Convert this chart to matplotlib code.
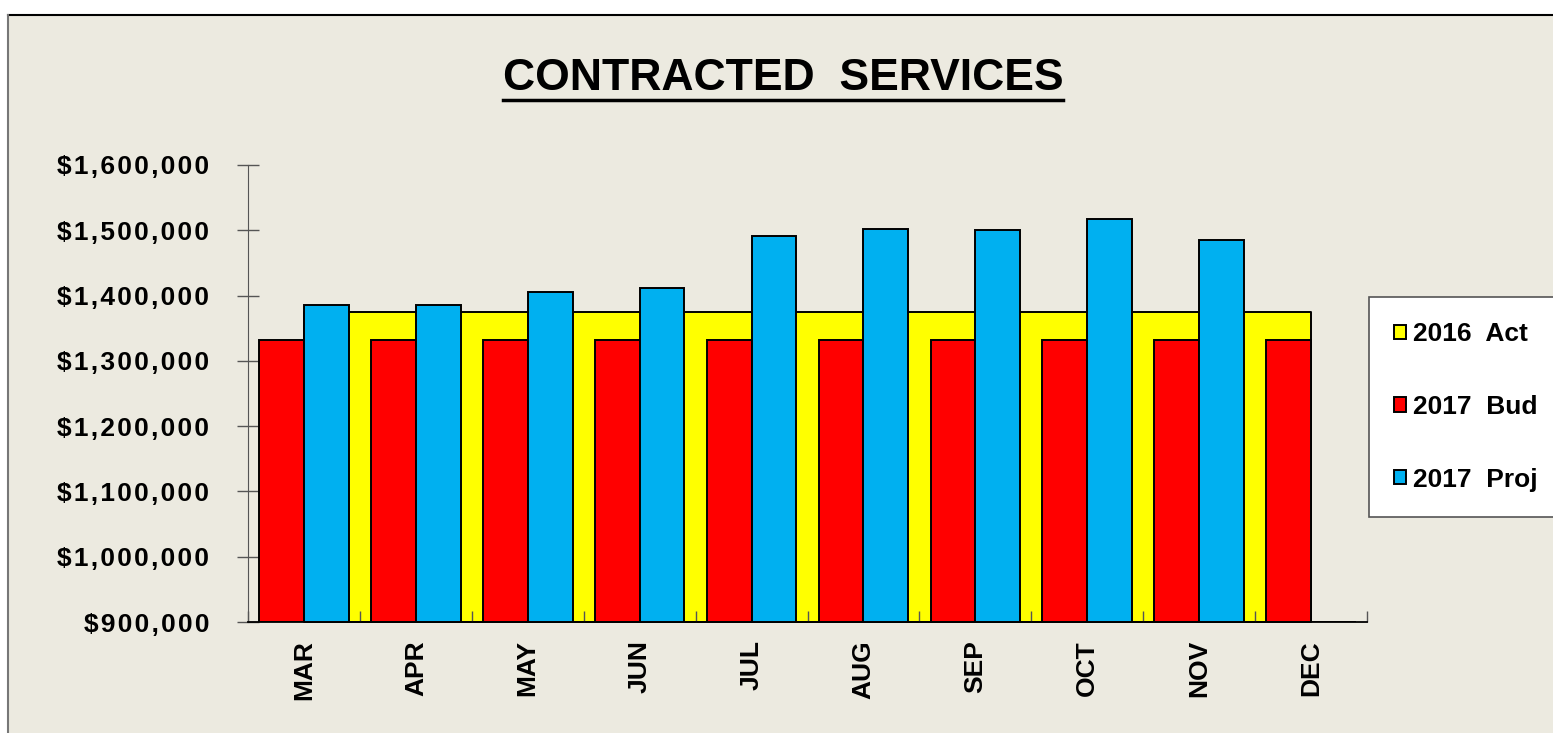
import matplotlib
matplotlib.use("Agg")
import matplotlib.pyplot as plt
import numpy as np
from matplotlib.lines import Line2D
from matplotlib.patches import Rectangle

plt.rcParams['font.family'] = ['Liberation Sans', 'DejaVu Sans']
plt.rcParams['font.weight'] = 'bold'

months = ['MAR', 'APR', 'MAY', 'JUN', 'JUL', 'AUG', 'SEP', 'OCT', 'NOV', 'DEC']
act_2016 = [1375000] * 10
bud_2017 = [1332000] * 10
proj_2017 = [1385000, 1385000, 1405000, 1411000, 1492000, 1502000,
             1501000, 1517000, 1485000, 0]
series_names = ['2016  Act', '2017  Bud', '2017  Proj']
y_ticks = [900000, 1000000, 1100000, 1200000, 1300000, 1400000, 1500000, 1600000]

bg = '#ECEAE0'
W, H = 1553, 733
fig = plt.figure(figsize=(W / 100, H / 100), dpi=100)
fig.patch.set_facecolor('white')

# chart area panel with top/left border
fig.patches.append(Rectangle((8 / W, 0), 1, 1 - 15 / H, transform=fig.transFigure,
                             facecolor=bg, edgecolor='none', zorder=-10))
fig.lines.append(Line2D([8 / W, 1], [1 - 15 / H] * 2, transform=fig.transFigure,
                        color='black', lw=1.5))
fig.lines.append(Line2D([8 / W] * 2, [0, 1 - 15 / H], transform=fig.transFigure,
                        color='#777777', lw=1.5))

ax = fig.add_axes([248 / W, 1 - 622 / H, (1367 - 248) / W, (622 - 165) / H])
ax.set_facecolor(bg)

ymin, ymax = 900000, 1600000
x = np.arange(len(months))
w = 0.4

def clip(vals):
    return np.maximum(np.array(vals, dtype=float), ymin) - ymin

ax.fill_between(x, ymin, act_2016, facecolor='#FFFF00', edgecolor='black',
                linewidth=1.4, zorder=1, label=series_names[0])
ax.bar(x - w / 2, clip(bud_2017), w, bottom=ymin, color='#FF0000',
       edgecolor='black', linewidth=1.4, zorder=2, label=series_names[1])
ax.bar(x + w / 2, clip(proj_2017), w, bottom=ymin, color='#00B0F0',
       edgecolor='black', linewidth=1.4, zorder=3, label=series_names[2])

ax.set_xlim(-0.5, len(months) - 0.5)
ax.set_ylim(ymin, ymax)

sp = '\u200a'
def money(v):
    return sp.join(f'${v:,.0f}')

ax.set_yticks(y_ticks)
ax.set_yticklabels([money(v) for v in y_ticks], fontsize=19, fontweight='bold')
ax.tick_params(axis='y', direction='inout', length=16, width=1, color='#555555', pad=20)

ax.set_xticks(x)
ax.set_xticklabels(months, rotation=90, fontsize=19, fontweight='bold', va='top')
ax.tick_params(axis='x', which='major', length=0, pad=13)
ax.set_xticks(np.arange(len(months) + 1) - 0.5, minor=True)
ax.tick_params(axis='x', which='minor', direction='in', length=8, width=1, color='#555555')

for s in ['top', 'right']:
    ax.spines[s].set_visible(False)
ax.spines['left'].set_color('#555555')
ax.spines['bottom'].set_color('black')
ax.spines['bottom'].set_linewidth(1.3)

# legend
handles, labels = ax.get_legend_handles_labels()
leg = fig.legend(handles, labels,
                 loc='upper left', bbox_to_anchor=(1369 / W, 1 - 297 / H),
                 fontsize=19, frameon=True, fancybox=False, framealpha=1,
                 borderpad=0.95, labelspacing=1.85, handlelength=0.45,
                 handleheight=0.45, handletextpad=0.25, borderaxespad=0)
leg.get_frame().set_edgecolor('#555555')
leg.get_frame().set_linewidth(1.2)
for t in leg.get_texts():
    t.set_fontweight('bold')

title = fig.text(783 / W, 1 - 78 / H, 'CONTRACTED  SERVICES', ha='center', va='center',
                 fontsize=32, fontweight='bold')
fig.canvas.draw()
bb = title.get_window_extent()
fig.lines.append(Line2D([bb.x0 / W, bb.x1 / W], [1 - 100 / H] * 2, transform=fig.transFigure,
                        color='black', lw=2.5))

fig.savefig('out.png', dpi=100, facecolor=fig.get_facecolor())
